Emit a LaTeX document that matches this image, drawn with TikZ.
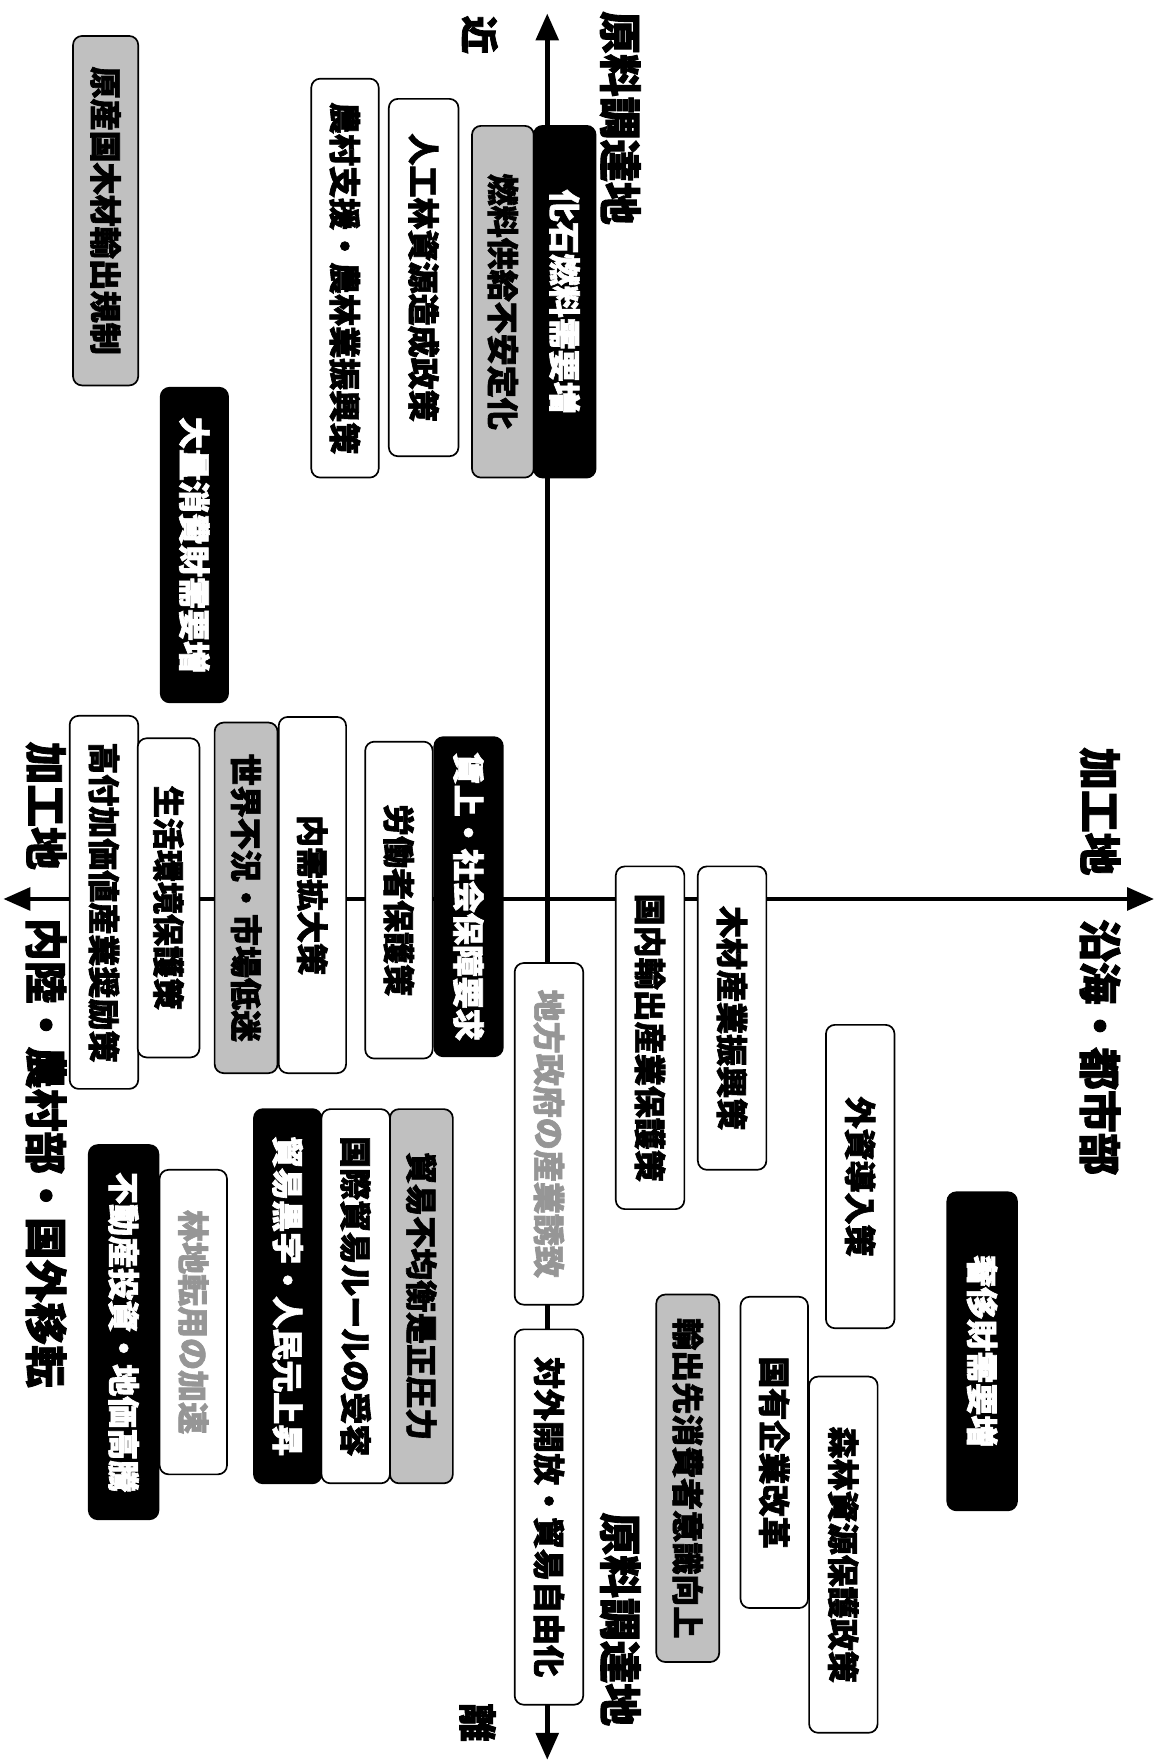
\documentclass[tikz,border=0pt]{standalone}
\usepackage{fontspec}
\setmainfont{Noto Sans CJK JP}[BoldFeatures={FakeBold=2}]
\usetikzlibrary{arrows.meta}
\definecolor{boxgray}{RGB}{192,192,192}
\definecolor{txtgray}{RGB}{150,150,150}
\begin{document}
\begin{tikzpicture}[x=1pt,y=-1pt,
  box/.style={draw=black, line width=1.5pt, rounded corners=8pt, rotate=-90, inner sep=0pt, font=\fontsize{28.5}{28.5}\selectfont\bfseries, align=center},
  wbox/.style={box, fill=white},
  gbox/.style={box, fill=boxgray},
  bbox/.style={box, fill=black, text=white},
  axlabel/.style={rotate=-90, font=\fontsize{38}{38}\selectfont\bfseries, inner sep=0pt},
  smalllabel/.style={rotate=-90, font=\fontsize{34}{34}\selectfont\bfseries, inner sep=0pt},
  axisline/.style={line width=4pt, {Triangle[width=20pt,length=24pt]}-{Triangle[width=20pt,length=24pt]}}
]
\useasboundingbox (0,0) rectangle (1030,1568);
% axes
\coordinate (vtop) at (487,12);
\coordinate (vbot) at (487,1566);
\coordinate (hleft) at (3,800);
\coordinate (hright) at (1027,800);
\draw[axisline] (vbot) -- (vtop);
\draw[axisline] (hleft) -- (hright);
% axis labels
\node[axlabel] (l1) at (552,105) {原料調達地};
\node[smalllabel] (l2) at (427,31) {近};
\node[axlabel] (l3) at (979,722) {加工地};
\node[axlabel] (l4) at (979,932) {沿海・都市部};
\node[axlabel] (l5) at (41,717) {加工地};
\node[axlabel] (l6) at (41,1026) {内陸・農村部・国外移転};
\node[axlabel] (l7) at (552,1441) {原料調達地};
\node[smalllabel] (l8) at (425,1533) {離};
% boxes
\node[gbox, minimum width=311pt, minimum height=58pt] (n1) at (94,187.5) {原産国木材輸出規制};
\node[wbox, minimum width=355pt, minimum height=60pt] (n2) at (307,247.5) {農村支援・農林業振興策};
\node[wbox, minimum width=318pt, minimum height=62pt] (n3) at (377,247) {人工林資源造成政策};
\node[gbox, minimum width=313pt, minimum height=55pt] (n4) at (447.5,268.5) {燃料供給不安定化};
\node[bbox, minimum width=313pt, minimum height=55pt] (n5) at (502.5,268.5) {化石燃料需要増};
\node[bbox, minimum width=280pt, minimum height=60pt] (n6) at (173,485) {大量消費財需要増};
\node[wbox, minimum width=332pt, minimum height=61pt] (n7) at (92.5,803) {高付加価値産業奨励策};
\node[wbox, minimum width=284pt, minimum height=55pt] (n8) at (150,799) {生活環境保護策};
\node[gbox, minimum width=312pt, minimum height=56pt] (n9) at (219,799) {世界不況・市場低迷};
\node[wbox, minimum width=317pt, minimum height=60pt] (n10) at (278,796.5) {内需拡大策};
\node[wbox, minimum width=282pt, minimum height=60pt] (n11) at (355,801) {労働者保護策};
\node[bbox, minimum width=284pt, minimum height=61pt] (n12) at (417,798) {賃上・社会保障要求};
\node[wbox, minimum width=305pt, minimum height=61pt] (n13) at (578.5,923.5) {国内輸出産業保護策};
\node[wbox, minimum width=270pt, minimum height=61pt] (n14) at (651.5,906) {木材産業振興策};
\node[wbox, text=txtgray, minimum width=304pt, minimum height=61pt] (n15) at (488.5,1009) {地方政府の産業誘致};
\node[wbox, minimum width=334pt, minimum height=61pt] (n16) at (488.5,1350) {対外開放・貿易自由化};
\node[wbox, minimum width=270pt, minimum height=61pt] (n17) at (765.5,1047) {外資導入策};
\node[bbox, minimum width=283pt, minimum height=62pt] (n18) at (874,1202.5) {奢侈財需要増};
\node[gbox, minimum width=327pt, minimum height=56pt] (n19) at (612,1315.5) {輸出先消費者意識向上};
\node[wbox, minimum width=277pt, minimum height=60pt] (n20) at (689,1292.5) {国有企業改革};
\node[wbox, minimum width=317pt, minimum height=61pt] (n21) at (750.5,1383.5) {森林資源保護政策};
\node[gbox, minimum width=333pt, minimum height=56pt] (n22) at (375,1153.5) {貿易不均衡是正圧力};
\node[wbox, minimum width=333pt, minimum height=61pt] (n23) at (316.5,1153.5) {国際貿易ルールの受容};
\node[bbox, minimum width=333pt, minimum height=60pt] (n24) at (256,1153.5) {貿易黒字・人民元上昇};
\node[wbox, text=txtgray, minimum width=271pt, minimum height=60pt] (n25) at (172,1176.5) {林地転用の加速};
\node[bbox, minimum width=333pt, minimum height=62pt] (n26) at (110,1185.5) {不動産投資・地価高騰};
\end{tikzpicture}
\end{document}
